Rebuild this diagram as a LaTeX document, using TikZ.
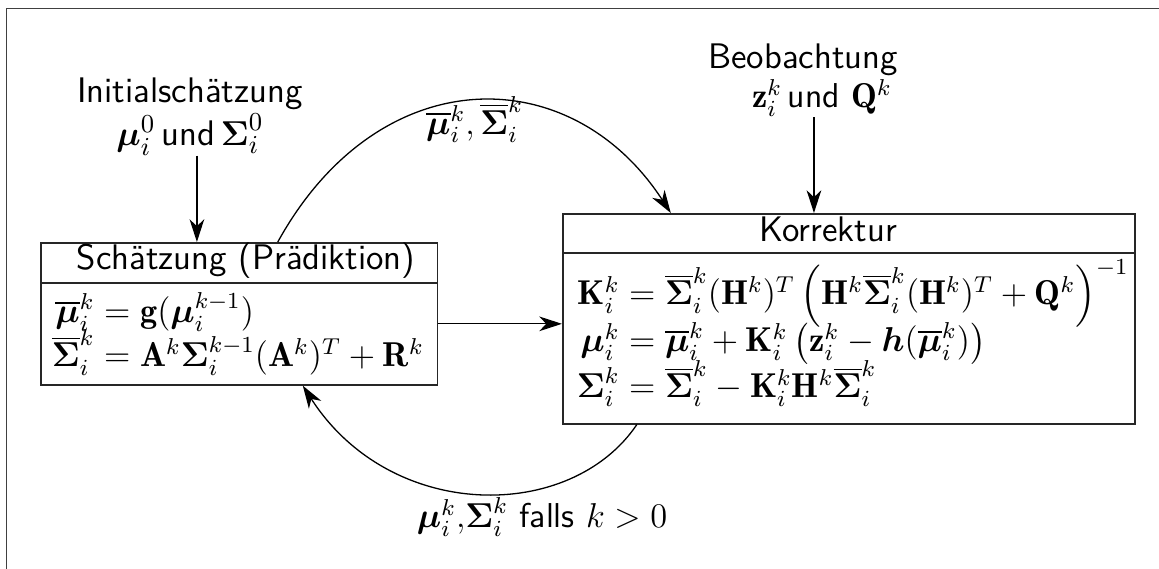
\documentclass[tikz,border=0pt]{standalone}
\usepackage{amsmath}
\usepackage{fontspec}
\usepackage{bm}
\usetikzlibrary{arrows.meta}
\newlength\lhsL
\newlength\lhsR
\newcommand{\eqln}[3]{\makebox[#1][r]{$#2$}${}=#3$}
\begin{document}
\fontsize{12}{14.5}\selectfont
\settowidth\lhsL{$\overline{\bm{\Sigma}}_i^k$}
\settowidth\lhsR{$\mathbf{K}_i^k$}
\begin{tikzpicture}[x=0.3477pt,y=-0.3477pt,
  every node/.style={inner sep=0pt, font=\fontsize{12}{14.5}\selectfont\sffamily},
  txt/.style={font=\fontsize{12.35}{14.9}\selectfont\sffamily},
  box/.style={draw=black!85, line width=0.55pt, anchor=north west},
  sep/.style={draw=black!85, line width=0.55pt},
  eq/.style={anchor=base west},
  arr/.style={line width=0.45pt, -{Stealth[length=7.9pt,width=5.1pt,inset=2.4pt]}},
  frame/.style={draw=black!75, line width=0.55pt}]
\useasboundingbox (0,0) rectangle (1159,569);
% outer frame (only left and top edges visible)
\draw[frame] (6.5,569) -- (6.5,8.5) -- (1159,8.5);

% inputs
\node[txt, anchor=north, align=center] (init) at (190,77) {Initialschätzung\\$\bm{\mu}_i^0$\,und\,$\bm{\Sigma}_i^0$};
\node[txt, anchor=north] (beobA) at (803,43) {Beobachtung};
\node[anchor=base] (beob) at (822,108) {$\mathbf{z}_i^k$\,und $\mathbf{Q}^k$};

% prediction box
\node[box, minimum width=138.0pt, minimum height=49.4pt] (L) at (40,242) {};
\draw[sep] ([yshift=-14.26pt]L.north west) -- ([yshift=-14.26pt]L.north east);
\node[txt, anchor=base] (Lh) at (246,270) {Schätzung (Prädiktion)};
\node[eq, xshift=-\lhsL] (l1) at (94,323) {\eqln{\lhsL}{\overline{\bm{\mu}}_i^k}{\mathbf{g}(\bm{\mu}_i^{k-1})}};
\node[eq, xshift=-\lhsL] (l2) at (94,367) {\eqln{\lhsL}{\overline{\bm{\Sigma}}_i^k}{\mathbf{A}^k\bm{\Sigma}_i^{k-1}(\mathbf{A}^k)^T+\mathbf{R}^k}};

% correction box
\node[box, minimum width=198.9pt, minimum height=73.0pt] (R) at (562,213) {};
\draw[sep] ([yshift=-13.9pt]R.north west) -- ([yshift=-13.9pt]R.north east);
\node[txt, anchor=base] (Rh) at (828,242) {Korrektur};
\node[eq, xshift=-\lhsR] (r1) at (619,305) {\eqln{\lhsR}{\mathbf{K}_i^k}{\overline{\bm{\Sigma}}_i^k(\mathbf{H}^k)^T\,{\left(\mathbf{H}^k\overline{\bm{\Sigma}}_i^k(\mathbf{H}^k)^T+\mathbf{Q}^k\right)}^{-1}}};
\node[eq, xshift=-\lhsR] (r2) at (619,352) {\eqln{\lhsR}{\bm{\mu}_i^k}{\overline{\bm{\mu}}_i^k+\mathbf{K}_i^k\,{\left(\mathbf{z}_i^k-\bm{h}(\overline{\bm{\mu}}_i^k)\right)}}};
\node[eq, xshift=-\lhsR] (r3) at (619,398) {\eqln{\lhsR}{\bm{\Sigma}_i^k}{\overline{\bm{\Sigma}}_i^k-\mathbf{K}_i^k\mathbf{H}^k\overline{\bm{\Sigma}}_i^k}};

% connectors
\draw[arr] ([xshift=2.4pt]init.south) -- ([xshift=2.4pt]init.south |- L.north);
\draw[arr] ([xshift=-2.8pt]beob.south) -- ([xshift=-2.8pt]beob.south |- R.north);
\draw[arr] ([yshift=-3.48pt]L.east) -- ([yshift=-3.48pt]L.east -| R.west);
\draw[arr] ([xshift=13.4pt]L.north) .. controls +(101,-183) and +(-100,-154) .. ([xshift=-61.9pt]R.north)
  node[midway, anchor=base, yshift=-11.5pt] (topl) {$\overline{\bm{\mu}}_i^k,\overline{\bm{\Sigma}}_i^k$};
\draw[arr] ([xshift=-73.7pt]R.south) .. controls +(-66,98) and +(88,137) .. ([xshift=22.1pt]L.south);
\node[anchor=base] (botl) at (542,528) {$\bm{\mu}_i^k{,}\bm{\Sigma}_i^k$ falls $k>0$};
\end{tikzpicture}
\end{document}
